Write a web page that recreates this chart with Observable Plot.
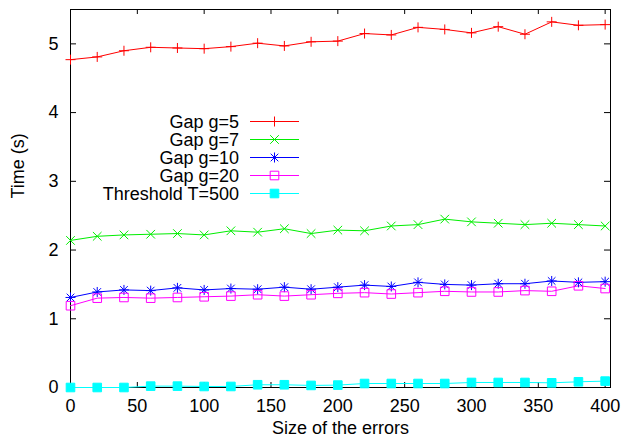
<!DOCTYPE html>
<html><head><meta charset="utf-8">
<script src="https://cdn.jsdelivr.net/npm/d3@7"></script>
<script src="https://cdn.jsdelivr.net/npm/@observablehq/plot@0.6"></script>
<style>
body{margin:0;background:#fff;}
#chart{position:relative;width:623px;height:438px;font-family:"Liberation Sans",Arial,sans-serif;}
#legend{position:absolute;left:0;top:0;pointer-events:none;}
</style></head><body><div id="chart"></div>
<script>
// ---- data ----
const sizes = [0,20,40,60,80,100,120,140,160,180,200,220,240,260,280,300,320,340,360,380,400];
const seriesNames = ["Gap g=5","Gap g=7","Gap g=10","Gap g=20","Threshold T=500"];
const gap5  = [4.77,4.81,4.90,4.95,4.94,4.93,4.96,5.01,4.97,5.03,5.04,5.15,5.13,5.24,5.21,5.16,5.25,5.14,5.32,5.27,5.28];
const gap7  = [2.14,2.20,2.22,2.23,2.24,2.22,2.28,2.26,2.31,2.24,2.29,2.28,2.35,2.37,2.45,2.41,2.39,2.37,2.39,2.37,2.35];
const gap10 = [1.31,1.39,1.42,1.41,1.45,1.42,1.44,1.43,1.46,1.43,1.46,1.49,1.47,1.53,1.50,1.49,1.51,1.51,1.55,1.53,1.54];
const gap20 = [1.19,1.30,1.31,1.30,1.31,1.32,1.33,1.35,1.33,1.35,1.37,1.38,1.36,1.38,1.40,1.39,1.39,1.41,1.40,1.48,1.44];
const thr500 = [0.00,0.00,0.00,0.02,0.02,0.015,0.015,0.04,0.04,0.03,0.035,0.058,0.058,0.058,0.058,0.073,0.073,0.073,0.068,0.083,0.093];
const xTicks = [0,50,100,150,200,250,300,350,400];
const yTicks = [0,1,2,3,4,5];
const xLabel = "Size of the errors";
const yLabel = "Time (s)";

// ---- styles ----
const values = [gap5, gap7, gap10, gap20, thr500];
const colors = ["#ff0000","#00ee00","#0000ff","#ff00ff","#00ffff"];
const symPlus = {draw(c){const h=5;c.moveTo(-h,0);c.lineTo(h,0);c.moveTo(0,-h);c.lineTo(0,h);}};
const symTimes = {draw(c){const h=4.3;c.moveTo(-h,-h);c.lineTo(h,h);c.moveTo(-h,h);c.lineTo(h,-h);}};
const symStar = {draw(c){const h=5,t=3.8;c.moveTo(-h,0);c.lineTo(h,0);c.moveTo(0,-h);c.lineTo(0,h);c.moveTo(-t,-t);c.lineTo(t,t);c.moveTo(-t,t);c.lineTo(t,-t);}};
const symSq = {draw(c){const h=4.3;c.moveTo(-h,-h);c.lineTo(h,-h);c.lineTo(h,h);c.lineTo(-h,h);c.closePath();}};
const symbols = [symPlus, symTimes, symStar, symSq, symSq];
const fills = ["none","none","none","none","#00ffff"];

const rows = [];
seriesNames.forEach((s,k)=>sizes.forEach((x,i)=>rows.push({series:s, k, x, y: values[k][i]})));

const FS = 18;
const fw = 540, fh = 378;
const marks = [
  Plot.frame({stroke:"#000", strokeWidth:1}),
  Plot.tickX(xTicks, {x:d=>d, insetTop: fh-5, stroke:"#000"}),
  Plot.tickX(xTicks, {x:d=>d, insetBottom: fh-5, stroke:"#000"}),
  Plot.tickY(yTicks, {y:d=>d, insetRight: fw-6, stroke:"#000"}),
  Plot.tickY(yTicks, {y:d=>d, insetLeft: fw-6, stroke:"#000"}),
  Plot.axisX(xTicks, {tickSize:0, tickPadding:12, label:null, fontSize:FS, fill:"#000", tickFormat:d3.format("d")}),
  Plot.axisY(yTicks, {tickSize:0, tickPadding:12, label:null, fontSize:FS, fill:"#000", tickFormat:d3.format("d")}),
  Plot.text([xLabel], {text:d=>d, frameAnchor:"bottom", dy:46, fontSize:FS, fill:"#000"}),
  Plot.text([yLabel], {text:d=>d, frameAnchor:"left", dx:-52, rotate:-90, fontSize:FS, fill:"#000"})
];
seriesNames.forEach((s,k)=>{
  const d = rows.filter(r=>r.k===k);
  marks.push(Plot.line(d, {x:"x", y:"y", stroke: colors[k], strokeWidth:1}));
});
seriesNames.forEach((s,k)=>{
  const d = rows.filter(r=>r.k===k);
  marks.push(Plot.dot(d, {x:"x", y:"y", symbol: symbols[k], stroke: colors[k], fill: fills[k], strokeWidth:1, r:5}));
});

const chart = Plot.plot({
  width:623, height:438, marginLeft:70, marginRight:13, marginTop:9, marginBottom:51,
  style:{fontFamily:"'Liberation Sans', Arial, sans-serif", fontSize: FS+"px", background:"#fff", color:"#000"},
  x:{domain:[0,404]}, y:{domain:[0,5.5]},
  marks
});
const host = document.getElementById("chart");
host.appendChild(chart);

// ---- legend overlay ----
const lg = d3.select(host).append("svg").attr("id","legend").attr("width",623).attr("height",438)
  .style("font-family","'Liberation Sans', Arial, sans-serif").style("font-size",FS+"px");
seriesNames.forEach((s,k)=>{
  const y = 121.5 + 18*k;
  lg.append("text").attr("x",239).attr("y",y).attr("text-anchor","end").attr("dy","0.36em").attr("fill","#000").text(s);
  lg.append("line").attr("x1",250).attr("x2",299).attr("y1",y).attr("y2",y).attr("stroke",colors[k]).attr("stroke-width",1);
  lg.append("path").attr("d", d3.symbol(symbols[k], 64)()).attr("transform",`translate(274.5,${y})`)
    .attr("stroke",colors[k]).attr("fill",fills[k]).attr("stroke-width",1);
});
</script></body></html>
